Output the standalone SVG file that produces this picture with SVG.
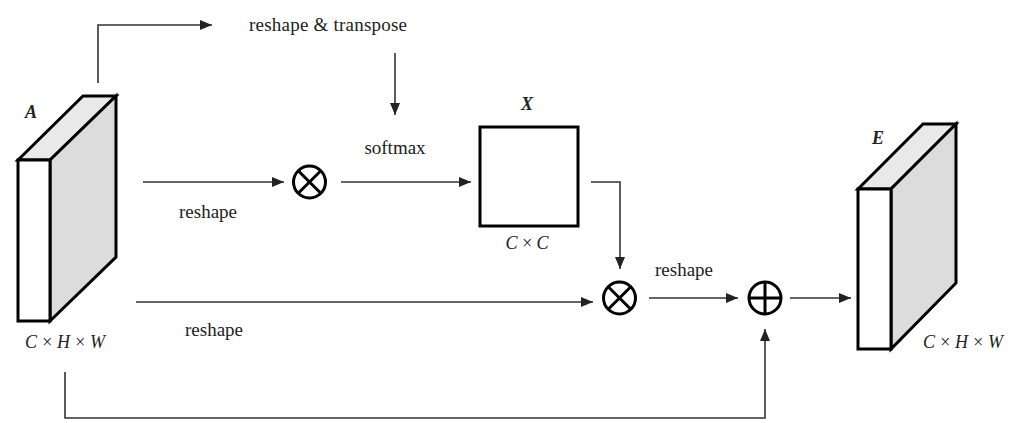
<svg xmlns="http://www.w3.org/2000/svg" width="1017" height="423" viewBox="0 0 1017 423">
<style>
.t{font-family:"Liberation Serif","DejaVu Serif",serif;font-size:19px;fill:#222;text-anchor:middle}
.it{font-style:italic;font-size:18px}
.lb{font-style:italic;font-weight:bold;font-size:18px}
.ln{fill:none;stroke:#333;stroke-width:1.6}
.bx{stroke:#000;stroke-width:3;stroke-linejoin:miter}
.op{fill:#fff;stroke:#000;stroke-width:3}
</style>
<defs>
<marker id="ah" viewBox="0 0 12 10" refX="12" refY="5" markerWidth="12" markerHeight="10" markerUnits="userSpaceOnUse" orient="auto">
<path d="M0,0 L12,5 L0,10 Z" fill="#222"/>
</marker>
</defs>
<rect width="1017" height="423" fill="#fff"/>

<g id="connectors">
<path class="ln" d="M98,83 V25 H212" marker-end="url(#ah)"/>
<path class="ln" d="M395,53 V115" marker-end="url(#ah)"/>
<path class="ln" d="M143,182 H284" marker-end="url(#ah)"/>
<path class="ln" d="M341,182 H471" marker-end="url(#ah)"/>
<path class="ln" d="M591,182 H620 V269" marker-end="url(#ah)"/>
<path class="ln" d="M136,302 H593" marker-end="url(#ah)"/>
<path class="ln" d="M649,298 H738" marker-end="url(#ah)"/>
<path class="ln" d="M790,298 H851" marker-end="url(#ah)"/>
<path class="ln" d="M65,372 V418 H765 V329" marker-end="url(#ah)"/>
</g>

<g id="label-reshape-transpose"><text class="t" x="328" y="31" textLength="158">reshape &amp; transpose</text></g>
<g id="label-softmax"><text class="t" x="395" y="154">softmax</text></g>
<g id="label-reshape1"><text class="t" x="208" y="218">reshape</text></g>
<g id="label-reshape2"><text class="t" x="214" y="336">reshape</text></g>
<g id="label-reshape3"><text class="t" x="684" y="276">reshape</text></g>

<g id="node-A">
<polygon class="bx" fill="#e9e9e9" points="18,160 83,96 116,96 50,160"/>
<polygon class="bx" fill="#dcdcdc" points="50,160 116,96 116,257 50,321"/>
<rect class="bx" fill="#fff" x="18" y="160" width="32" height="161"/>
<text class="t lb" x="31" y="118">A</text>
<text class="t it" x="65" y="348" textLength="80">C × H × W</text>
</g>

<g id="node-mul1">
<circle class="op" cx="309.5" cy="182" r="16"/>
<path stroke="#000" stroke-width="3" d="M298.2,170.7 L320.8,193.3 M320.8,170.7 L298.2,193.3"/>
</g>

<g id="node-X">
<rect class="bx" fill="#fff" x="480" y="127" width="98" height="99"/>
<text class="t lb" x="527" y="110">X</text>
<text class="t it" x="527" y="249" textLength="43">C × C</text>
</g>

<g id="node-mul2">
<circle class="op" cx="619.5" cy="298" r="16"/>
<path stroke="#000" stroke-width="3" d="M608.2,286.7 L630.8,309.3 M630.8,286.7 L608.2,309.3"/>
</g>

<g id="node-add">
<circle class="op" cx="765" cy="298" r="16"/>
<path stroke="#000" stroke-width="3" d="M749,298 H781 M765,282 V314"/>
</g>

<g id="node-E">
<polygon class="bx" fill="#e9e9e9" points="858,189 923,124 956,124 891,189"/>
<polygon class="bx" fill="#dcdcdc" points="891,189 956,124 956,283 891,349"/>
<rect class="bx" fill="#fff" x="858" y="189" width="33" height="160"/>
<text class="t lb" x="878" y="144">E</text>
<text class="t it" x="963" y="348" textLength="80">C × H × W</text>
</g>
</svg>
